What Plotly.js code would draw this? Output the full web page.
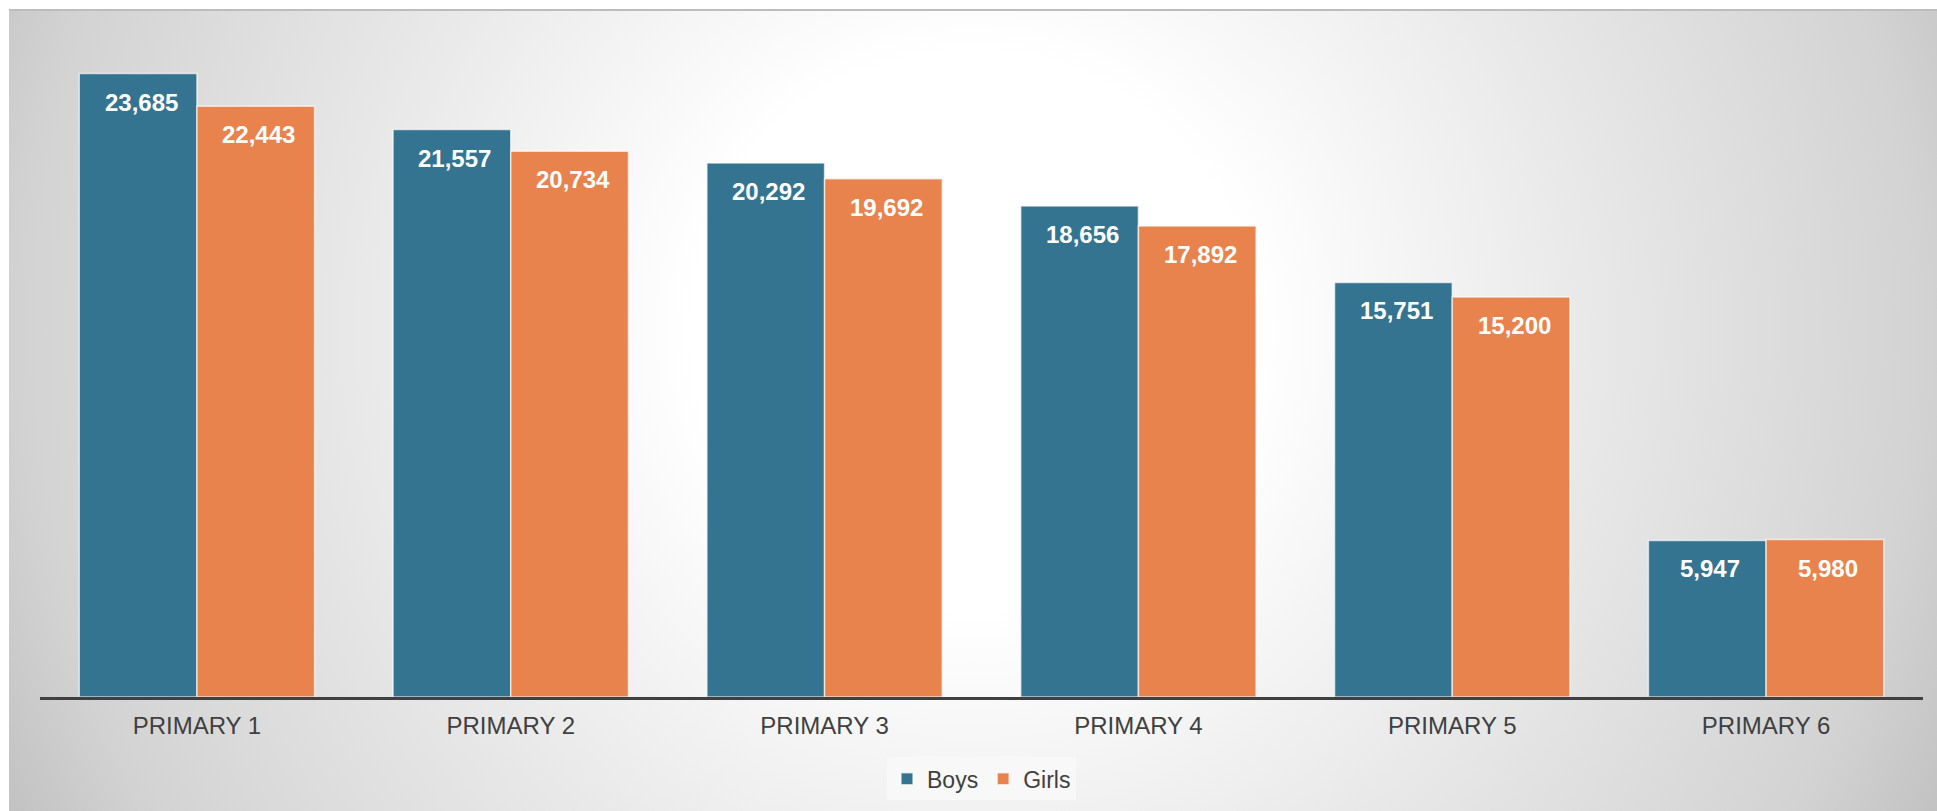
<!DOCTYPE html>
<html>
<head>
<meta charset="utf-8">
<script src="https://cdn.plot.ly/plotly-3.0.1.min.js"></script>
<style>
  html, body { margin: 0; padding: 0; background: #ffffff; width: 1937px; height: 811px; overflow: hidden; }
  #bg { position: absolute; left: 9px; top: 9px; width: 1928px; height: 802px;
        border-top: 2px solid #bdbdbd; box-sizing: border-box;
        background: radial-gradient(circle farthest-corner at 50% 40%, #ffffff 0%, #ffffff 26%, #e8e8e8 58%, #d3d3d3 88%, #c2c2c2 100%); }
  #chart { position: absolute; left: 0; top: 0; width: 1937px; height: 811px; }
</style>
</head>
<body>
<div id="bg"></div>
<div id="chart"></div>
<script>
const categories = ["PRIMARY 1", "PRIMARY 2", "PRIMARY 3", "PRIMARY 4", "PRIMARY 5", "PRIMARY 6"];
const boys = [23685, 21557, 20292, 18656, 15751, 5947];
const girls = [22443, 20734, 19692, 17892, 15200, 5980];
const seriesNames = ["Boys", "Girls"];
const seriesColors = ["#357490", "#E9834E"];

const W = 1937, H = 811;
const margin = {l: 40, r: 14, t: 39, b: 113};
const bargap = 0.25;
const plotW = W - margin.l - margin.r;
const catW = plotW / categories.length;
const barW = catW * (1 - bargap) / 2;

const fmt = v => v.toLocaleString("en-US");

const traces = [boys, girls].map((vals, k) => ({
  type: "bar",
  name: seriesNames[k],
  x: categories,
  y: vals,
  marker: {color: seriesColors[k], line: {color: "rgba(255,255,255,0.65)", width: 1.5}},
  hoverinfo: "x+y+name"
}));

const annotations = [];
[boys, girls].forEach((vals, k) => {
  vals.forEach((v, i) => {
    annotations.push({
      x: categories[i], y: v, xref: "x", yref: "y",
      text: fmt(v), showarrow: false,
      xanchor: "center", yanchor: "top",
      xshift: (k === 0 ? -1 : 1) * barW / 2 + 3, yshift: -13,
      font: {family: "Liberation Sans, Arial, sans-serif", size: 24, color: "#ffffff", weight: "bold"}
    });
  });
});

const layout = {
  width: W, height: H,
  margin: margin,
  paper_bgcolor: "rgba(0,0,0,0)",
  plot_bgcolor: "rgba(0,0,0,0)",
  barmode: "group",
  bargap: bargap,
  bargroupgap: 0,
  showlegend: true,
  legend: {
    orientation: "h", x: 0.5, xanchor: "center", y: -0.09, yanchor: "top",
    bgcolor: "#f8f8f8", font: {family: "Liberation Sans, Arial, sans-serif", size: 23, color: "#404040"},
    itemwidth: 30, traceorder: "normal"
  },
  xaxis: {
    type: "category",
    showline: true, linecolor: "#404040", linewidth: 3,
    showgrid: false, zeroline: false, ticks: "",
    tickfont: {family: "Liberation Sans, Arial, sans-serif", size: 24, color: "#404040"},
    ticklabelstandoff: 5
  },
  yaxis: {
    range: [0, 25000], visible: false, showgrid: false, zeroline: false, fixedrange: true
  },
  annotations: annotations,
  font: {family: "Liberation Sans, Arial, sans-serif"}
};

Plotly.newPlot("chart", traces, layout, {displayModeBar: false, staticPlot: true});
</script>
</body>
</html>
